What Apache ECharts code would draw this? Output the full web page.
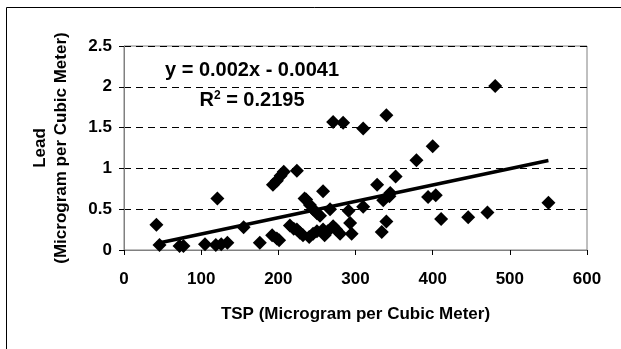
<!DOCTYPE html>
<html>
<head>
<meta charset="utf-8">
<script src="https://cdn.jsdelivr.net/npm/echarts@6/dist/echarts.min.js"></script>
<style>
html,body{margin:0;padding:0;background:#fff;}
#c{width:621px;height:349px;}
</style>
</head>
<body>
<div id="c"></div>
<script>
// TSP (x) values
const tsp = [42,46,72,77,105,119,121,126,134,155,176,192,198,201,193,198,203,207,224,215,220,224,228,232,234,236,241,245,250,254,240,245,250,258,258,260,264,267,271,275,280,271,284,310,291,293,295,310,328,334,340,336,344,345,340,352,379,400,394,404,411,446,471,481,550];
// Lead (y) values
const lead = [0.31,0.06,0.05,0.05,0.07,0.06,0.63,0.07,0.09,0.28,0.09,0.18,0.14,0.12,0.80,0.85,0.91,0.96,0.97,0.30,0.26,0.25,0.21,0.18,0.63,0.62,0.55,0.50,0.45,0.42,0.16,0.20,0.23,0.72,0.25,0.18,0.23,0.50,0.29,0.25,0.20,1.57,1.56,1.49,0.48,0.33,0.20,0.53,0.80,0.22,0.35,0.61,0.66,0.70,1.65,0.90,1.10,1.27,0.65,0.67,0.38,0.40,0.46,2.01,0.58];
// trendline: y = 0.002x - 0.0041
const slope = 0.002, intercept = -0.0041;
const trendX = [42, 550];
const eqText = 'y = 0.002x - 0.0041';
const r2Value = '0.2195';
const xTitle = 'TSP (Microgram per Cubic Meter)';
const yTitle = 'Lead\n(Microgram per Cubic Meter)';

const points = tsp.map((x, i) => [x, lead[i]]);
const trend = trendX.map(x => [x, slope * x + intercept]);

const chart = echarts.init(document.getElementById('c'), null, {renderer: 'canvas'});
const font = '"Liberation Sans", Arial, sans-serif';
chart.setOption({
  animation: false,
  backgroundColor: '#fff',
  grid: {left: 124, right: 34, top: 46, bottom: 99, show: true, borderColor: '#808080', borderWidth: 1},
  xAxis: {
    type: 'value', min: 0, max: 600, interval: 100,
    axisLine: {show: true, lineStyle: {color: '#808080', width: 1}},
    axisTick: {show: true, length: 5, lineStyle: {color: '#000'}},
    axisLabel: {color: '#000', fontFamily: font, fontWeight: 'bold', fontSize: 17, margin: 21},
    splitLine: {show: false},
    name: xTitle, nameLocation: 'middle', nameGap: 56,
    nameTextStyle: {color: '#000', fontFamily: font, fontWeight: 'bold', fontSize: 17}
  },
  yAxis: {
    type: 'value', min: 0, max: 2.5, interval: 0.5,
    axisLine: {show: true, lineStyle: {color: '#808080', width: 1}},
    axisTick: {show: true, length: 5, lineStyle: {color: '#000'}},
    axisLabel: {color: '#000', fontFamily: font, fontWeight: 'bold', fontSize: 17, margin: 12},
    splitLine: {show: true, lineStyle: {color: '#000', type: [7, 5], width: 1}},
    name: yTitle, nameLocation: 'middle', nameGap: 52, nameRotate: 90,
    nameTextStyle: {color: '#000', fontFamily: font, fontWeight: 'bold', fontSize: 17, lineHeight: 21}
  },
  series: [
    {
      type: 'scatter', data: points, symbol: 'diamond', symbolSize: 14,
      itemStyle: {color: '#000', opacity: 1}, z: 3
    },
    {
      type: 'line', data: trend, symbol: 'none', lineStyle: {color: '#000', width: 3.5}, z: 4
    }
  ],
  graphic: [
    {type: 'rect', shape: {x: 6.5, y: 7.5, width: 700, height: 500}, style: {fill: 'none', stroke: '#000', lineWidth: 1}, silent: true, z: 0},
    {type: 'text', x: 252, y: 70, style: {text: eqText, fill: '#000', font: 'bold 20px ' + font, textAlign: 'center', textVerticalAlign: 'middle'}, z: 10},
    {type: 'text', x: 252, y: 100, style: {
      text: '{b|R}{s|2}{b| = ' + r2Value + '}',
      textAlign: 'center', textVerticalAlign: 'middle',
      rich: {
        b: {fontFamily: font, fontWeight: 'bold', fontSize: 20, fill: '#000', color: '#000'},
        s: {fontFamily: font, fontWeight: 'bold', fontSize: 12, fill: '#000', color: '#000', verticalAlign: 'top', padding: [0,0,8,0]}
      }
    }, z: 10}
  ]
});
</script>
</body>
</html>
